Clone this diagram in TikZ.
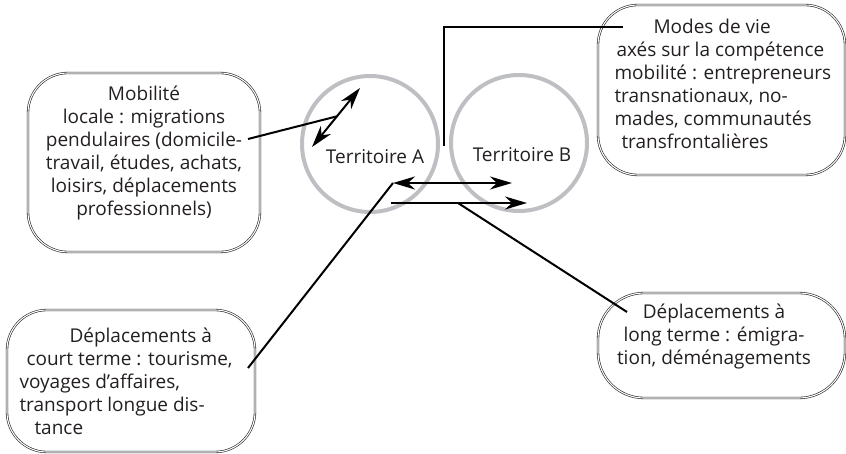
\documentclass[tikz,border=0pt]{standalone}
\usepackage{fontspec}
\setmainfont{Open Sans}
\usetikzlibrary{arrows.meta,positioning,calc}
\definecolor{ringgray}{RGB}{190,191,195}
\definecolor{inkgray}{RGB}{35,31,32}

\begin{document}
\begin{tikzpicture}[x=1pt,y=-1pt,font=\fontsize{19}{23}\selectfont,
  >={Stealth[length=22pt,width=13pt,inset=7pt]},
  bubble/.style={draw=inkgray,double,double distance=1.1pt,line width=0.6pt,inner sep=0pt},
  territory/.style={circle,draw=ringgray,line width=4pt,minimum size=136pt,inner sep=0pt},
  link/.style={line width=2pt,black}]
  \useasboundingbox (0,0) rectangle (846,454);
  \node [territory] (terrA) at (370,144) {};
  \node [territory] (terrB) at (519,143) {};
  \node [text=inkgray] (labA) at (375,157) {Territoire A};
  \node [text=inkgray] (labB) at (522,155) {Territoire B};
  \node [bubble,rounded corners=40pt,minimum width=232pt,minimum height=179pt] (mobBox) at (144,162.5) {};
  \node [text=inkgray,align=center] (mobText) at (144,153) {Mobilité\\locale : migrations\\pendulaires (domicile-\\travail, études, achats,\\loisirs, déplacements\\professionnels)};
  \node [bubble,rounded corners=40pt,minimum width=247pt,minimum height=170pt] (modBox) at (721.5,90) {};
  \node [text=inkgray,align=left,anchor=west] (modText) at (611,84) {\hspace*{39pt}Modes de vie\\\hspace*{2pt}axés sur la compétence\\mobilité : entrepreneurs\\transnationaux, no-\\mades, communautés\\\hspace*{7pt}transfrontalières};
  \node [bubble,rounded corners=40pt,minimum width=248pt,minimum height=142pt] (courtBox) at (131,381) {};
  \node [text=inkgray,align=left,anchor=west] (courtText) at (16,381) {\hspace*{50pt}Déplacements à\\\hspace*{7pt}court terme : tourisme,\\voyages d’affaires,\\transport longue dis-\\\hspace*{15pt}tance};
  \node [bubble,rounded corners=46pt,minimum width=247pt,minimum height=105pt] (longBox) at (721.5,345.5) {};
  \node [text=inkgray,align=center] (longText) at (714,337) {Déplacements à\\long terme : émigra-\\tion, déménagements};
  \coordinate (aLow) at (312,147);
  \coordinate (aHigh) at (360,88);
  \coordinate (aHub) at ($(aLow)!0.52!(aHigh)$);
  \coordinate (mobEnd) at (248,139);
  \draw [link,<->] (aLow) -- (aHigh);
  \draw [link] (mobEnd) -- (aHub);
  \coordinate (abLeft) at (393,183);
  \coordinate (abRight) at (512,183);
  \coordinate (fwStart) at (391,203);
  \coordinate (fwEnd) at (527,203);
  \draw [link,<->] (abLeft) -- (abRight);
  \draw [link,->] (fwStart) -- (fwEnd);
  \coordinate (courtEnd) at (248,368);
  \coordinate (fwHub) at (458,203);
  \coordinate (longEnd) at (627,312);
  \draw [link] (courtEnd) -- (abLeft);
  \draw [link] (fwHub) -- (longEnd);
  \coordinate (gapFoot) at (444,146);
  \coordinate (modEnd) at (623,27);
  \draw [link] (gapFoot) |- (modEnd);
\end{tikzpicture}
\end{document}
